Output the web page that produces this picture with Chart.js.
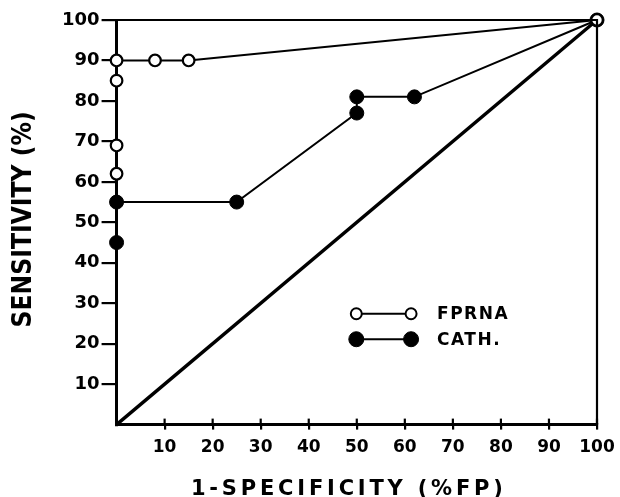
<!DOCTYPE html>
<html><head><meta charset="utf-8">
<script src="https://cdn.jsdelivr.net/npm/chart.js@4.4.1/dist/chart.umd.min.js"></script>
<style>html,body{margin:0;padding:0;background:#fff}#wrap{width:620px;height:497px}</style>
</head><body><div id="wrap"><canvas id="c" width="620" height="497"></canvas></div>
<script>
const fprnaX = [0, 0, 0, 0, 8, 15, 100];
const fprnaY = [62, 69, 85, 90, 90, 90, 100];
const cathX = [0, 0, 25, 50, 50, 62, 100];
const cathY = [45, 55, 55, 77, 81, 81, 100];
const chanceX = [0, 100];
const chanceY = [0, 100];
const tickValues = [10, 20, 30, 40, 50, 60, 70, 80, 90, 100];
const seriesNames = ['FPRNA', 'CATH.'];
const xTitle = '1-SPECIFICITY (%FP)';
const yTitle = 'SENSITIVITY (%)';

const pts = (xs, ys) => xs.map((x, i) => ({x, y: ys[i]}));
const FONT = '"DejaVu Sans", sans-serif';

const framePlugin = {
  id: 'frame',
  afterDatasetsDraw(chart) {
    const {ctx, chartArea: a, scales: {x, y}} = chart;
    ctx.save();
    ctx.strokeStyle = '#000';
    ctx.lineWidth = 2.2;
    ctx.beginPath();
    ctx.moveTo(a.left, a.top); ctx.lineTo(a.right, a.top); ctx.lineTo(a.right, a.bottom);
    ctx.stroke();
    // inner x tick stubs
    tickValues.forEach(v => {
      const px = x.getPixelForValue(v);
      ctx.beginPath(); ctx.moveTo(px, a.bottom); ctx.lineTo(px, a.bottom - 6); ctx.stroke();
    });
    // legend
    const lx1 = x.getPixelForValue(49.9), lx2 = x.getPixelForValue(61.3);
    const rows = [{y: 27.4, fill: '#fff', r: 5.5, bw: 2}, {y: 21.1, fill: '#000', r: 7.5, bw: 1}];
    rows.forEach((r, i) => {
      const py = y.getPixelForValue(r.y);
      ctx.lineWidth = 2;
      ctx.beginPath(); ctx.moveTo(lx1, py); ctx.lineTo(lx2, py); ctx.stroke();
      [lx1, lx2].forEach(px => {
        ctx.beginPath(); ctx.arc(px, py, r.r, 0, Math.PI * 2);
        ctx.fillStyle = r.fill; ctx.fill(); ctx.lineWidth = r.bw; ctx.stroke();
      });
      ctx.fillStyle = '#000';
      ctx.font = 'bold 17px ' + FONT;
      ctx.letterSpacing = '1.5px';
      ctx.textBaseline = 'middle';
      ctx.textAlign = 'left';
      ctx.fillText(seriesNames[i], x.getPixelForValue(66.7), py + 1);
    });
    // axis titles
    ctx.fillStyle = '#000';
    ctx.font = 'bold 21px ' + FONT;
    ctx.letterSpacing = '3.8px';
    ctx.textAlign = 'center';
    ctx.textBaseline = 'middle';
    ctx.fillText(xTitle, (a.left + a.right) / 2 - 8, 490);
    ctx.save();
    ctx.translate(24, (a.top + a.bottom) / 2 - 3);
    ctx.rotate(-Math.PI / 2);
    ctx.scale(0.87, 1);
    ctx.font = 'bold 27px ' + FONT;
    ctx.letterSpacing = '0px';
    ctx.fillText(yTitle, 0, 0);
    ctx.restore();
    ctx.letterSpacing = '0px';
    ctx.restore();
  }
};

new Chart(document.getElementById('c'), {
  type: 'scatter',
  data: {
    datasets: [
      {label: 'chance', data: pts(chanceX, chanceY), showLine: true, borderColor: '#000', borderWidth: 3.4, pointRadius: 0, order: 3, clip: false},
      {label: seriesNames[1], data: pts(cathX, cathY), showLine: true, borderColor: '#000', borderWidth: 2, pointRadius: 7, pointBackgroundColor: '#000', pointBorderColor: '#000', pointBorderWidth: 1, order: 2, clip: false},
      {label: seriesNames[0], data: pts(fprnaX, fprnaY), showLine: true, borderColor: '#000', borderWidth: 2, pointRadius: 5.8, pointBackgroundColor: '#fff', pointBorderColor: '#000', pointBorderWidth: 2.2, order: 1, clip: false}
    ]
  },
  options: {
    responsive: false,
    animation: false,
    devicePixelRatio: 1,
    layout: {padding: {left: 60, right: 23, top: 20, bottom: 31}},
    plugins: {legend: {display: false}, tooltip: {enabled: false}},
    scales: {
      x: {
        type: 'linear', min: 0, max: 100,
        afterBuildTicks: s => { s.ticks = [0].concat(tickValues).map(v => ({value: v})); },
        afterFit: s => { s.paddingRight = 0; s.paddingLeft = 0; },
        ticks: {color: '#000', font: {family: FONT, weight: 'bold', size: 17}, padding: 8,
          callback: v => v === 0 ? '' : String(v)},
        grid: {drawOnChartArea: false, drawTicks: true, tickLength: 5, lineWidth: 2.2,
          color: c => (c.tick && c.tick.value === 0) ? 'rgba(0,0,0,0)' : '#000'},
        border: {display: true, color: '#000', width: 3}
      },
      y: {
        type: 'linear', min: 0, max: 100,
        afterBuildTicks: s => { s.ticks = [0].concat(tickValues).map(v => ({value: v})); },
        ticks: {color: '#000', font: {family: FONT, weight: 'bold', size: 18}, padding: 2,
          callback: v => v === 0 ? '' : String(v)},
        grid: {drawOnChartArea: false, drawTicks: true, tickLength: 15, lineWidth: 2.2,
          color: c => (c.tick && c.tick.value === 0) ? 'rgba(0,0,0,0)' : '#000'},
        border: {display: true, color: '#000', width: 3}
      }
    }
  },
  plugins: [framePlugin]
});
</script>
</body></html>
